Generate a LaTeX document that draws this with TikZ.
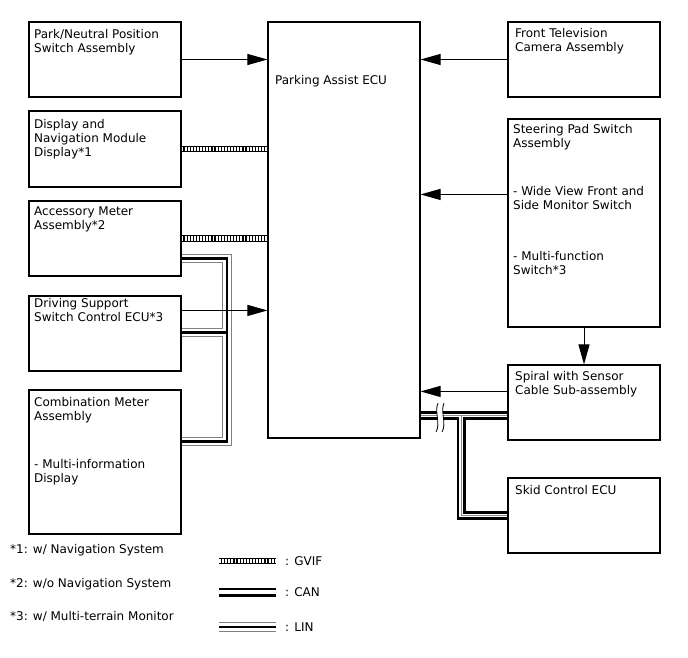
\documentclass[tikz,border=0pt]{standalone}
\usepackage{fontspec}
\setmainfont{DejaVu Sans}
\usetikzlibrary{arrows.meta,calc,backgrounds}
\begin{document}
\begin{tikzpicture}[x=1pt,y=-1pt,
  box/.style={draw=black, fill=white, line width=1.1pt, inner sep=0pt},
  txt/.style={anchor=north west, align=left, inner sep=0pt, font=\fontsize{12}{14}\selectfont},
  arr/.style={line width=1pt, -{Triangle[length=20pt,width=11pt]}},
  gvif/.style={draw=black, line width=6.5pt, postaction={draw=white, line width=4.4pt, dash pattern=on 1.9pt off 1.2pt}},
  can/.style={draw=white, line width=3.6pt, preaction={draw=black, line width=9pt}},
  canr/.style={can, postaction={draw=black!45, line width=0.5pt}},
  lin/.style={draw=black, line width=2.6pt, preaction={draw=black!50, line width=9.8pt}, preaction={draw=white, line width=7.6pt}},
]
\useasboundingbox (0,0) rectangle (688,658);

% boxes
\node[box, minimum width=152pt, minimum height=75pt] (pn) at (105,59.5) {};
\node[box, minimum width=152pt, minimum height=76pt] (disp) at (105,149) {};
\node[box, minimum width=152pt, minimum height=75pt] (acc) at (105,238.5) {};
\node[box, minimum width=152pt, minimum height=75pt] (drv) at (105,333.5) {};
\node[box, minimum width=152pt, minimum height=144pt] (comb) at (105,462) {};
\node[box, minimum width=152pt, minimum height=416pt] (ecu) at (344,230) {};
\node[box, minimum width=152pt, minimum height=75pt] (ftv) at (584,59.5) {};
\node[box, minimum width=152pt, minimum height=208pt] (steer) at (584,223) {};
\node[box, minimum width=152pt, minimum height=75pt] (spiral) at (584,402.5) {};
\node[box, minimum width=152pt, minimum height=75pt] (skid) at (584,515.5) {};

% box texts
\node[txt] (pnt) at ($(pn.north west)+(5.5,7.5)$) {Park/Neutral Position\\Switch Assembly};
\node[txt] (dispt) at ($(disp.north west)+(5.5,8.5)$) {Display and\\Navigation Module\\Display*1};
\node[txt] (acct) at ($(acc.north west)+(5.5,6.5)$) {Accessory Meter\\Assembly*2};
\node[txt] (drvt) at ($(drv.north west)+(5.5,2.5)$) {Driving Support\\Switch Control ECU*3};
\node[txt] (combt) at ($(comb.north west)+(5.5,7.5)$) {Combination Meter\\Assembly\\[34pt]- Multi-information\\Display};
\node[txt] (ecut) at ($(ecu.north west)+(7.5,54)$) {Parking Assist ECU};
\node[txt] (ftvt) at ($(ftv.north west)+(7.5,6.5)$) {Front Television\\Camera Assembly};
\node[txt] (steert) at ($(steer.north west)+(5.5,5.5)$) {Steering Pad Switch\\Assembly\\[34pt]- Wide View Front and\\Side Monitor Switch\\[37pt]- Multi-function\\Switch*3};
\node[txt] (spiralt) at ($(spiral.north west)+(7.5,6.5)$) {Spiral with Sensor\\Cable Sub-assembly};
\node[txt] (skidt) at ($(skid.north west)+(7.5,7.5)$) {Skid Control ECU};

\begin{pgfonlayer}{background}
% LIN bus (left)
\coordinate (jx) at (227,0);
\coordinate (l1) at ($(acc.north east)+(0,58)$);
\coordinate (l2) at ($(drv.north east)+(0,37)$);
\coordinate (l3) at ($(comb.north east)+(0,52)$);
\draw[lin] (l1) -- (l1 -| jx) -- (l3 -| jx) -- (l3) (l2) -- (l2 -| jx);

% CAN bus (right)
\coordinate (c1) at ($(spiral.north west)+(0,51)$);
\coordinate (c2) at ($(skid.north west)+(0,38)$);
\coordinate (cx) at (461,0);
\draw[canr] (c1 -| ecu.east) -- (c1) (c1 -| cx) -- (c2 -| cx) -- (c2);

\draw[arr] (pn.east) -- (pn.east -| ecu.west);
\draw[arr] (ftv.west) -- (ftv.west -| ecu.east);
\draw[gvif] (disp.east) -- (disp.east -| ecu.west);
\draw[gvif] (acc.east) -- (acc.east -| ecu.west);
\coordinate (d1) at ($(drv.north east)+(0,15)$);
\draw[arr] (d1) -- (d1 -| ecu.west);
\coordinate (s1) at ($(steer.north west)+(0,76)$);
\draw[arr] (s1) -- (s1 -| ecu.east);
\draw[arr] (steer.south) -- (spiral.north);
\coordinate (p1) at ($(spiral.north west)+(0,27)$);
\draw[arr] (p1) -- (p1 -| ecu.east);
\end{pgfonlayer}

% break mark
\fill[white] (438,403) .. controls (434,412) and (441,423) .. (436,432) -- (442,432) .. controls (447,423) and (440,412) .. (444,403) -- cycle;
\draw[line width=0.8pt] (438,403) .. controls (434,412) and (441,423) .. (436,432);
\draw[line width=0.8pt] (444,403) .. controls (440,412) and (447,423) .. (442,432);

% footnotes
\node[txt, anchor=base west] (f1) at (10,553) {*1: w/ Navigation System};
\node[txt, anchor=base west] (f2) at (10,587.5) {*2: w/o Navigation System};
\node[txt, anchor=base west] (f3) at (10,620.5) {*3: w/ Multi-terrain Monitor};

% legend
\coordinate (g1) at (219,561); \coordinate (g2) at (276,561);
\draw[gvif] (g1) -- (g2);
\node[txt, anchor=base west] (gt) at (285,565) {: GVIF};
\coordinate (k1) at (219,592); \coordinate (k2) at (276,592);
\draw[can] (k1) -- (k2);
\node[txt, anchor=base west] (kt) at (285,596) {: CAN};
\coordinate (n1) at (219,627); \coordinate (n2) at (276,627);
\draw[lin] (n1) -- (n2);
\node[txt, anchor=base west] (nt) at (285,631) {: LIN};
\end{tikzpicture}
\end{document}
